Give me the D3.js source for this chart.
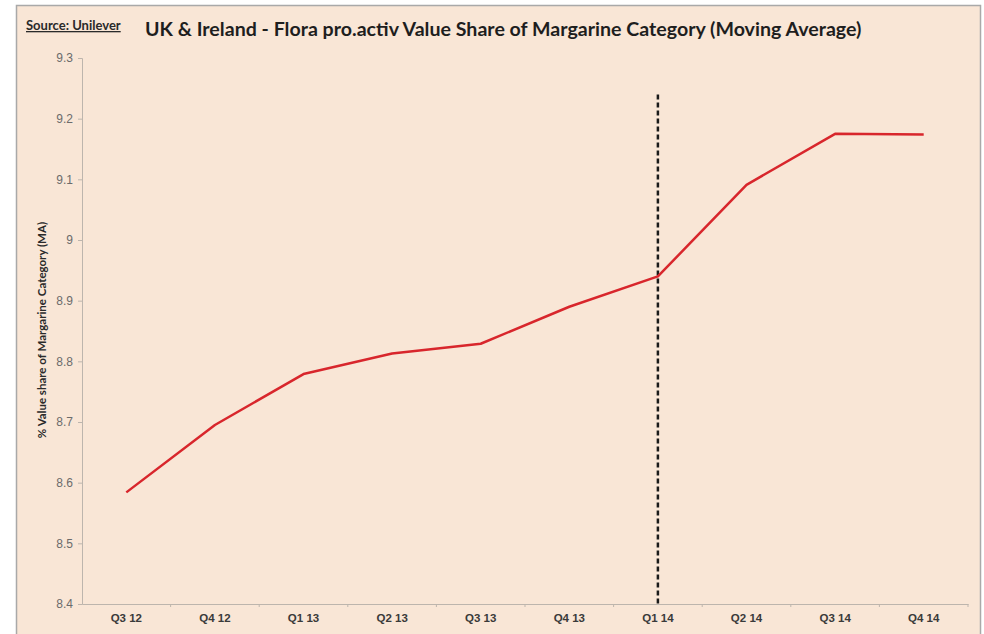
<!DOCTYPE html>
<html>
<head>
<meta charset="utf-8">
<script src="https://cdn.jsdelivr.net/npm/d3@7"></script>
<style>
  body { margin: 0; background: #fff; }
</style>
</head>
<body>
<script>
// Data
const quarters = ["Q3 12", "Q4 12", "Q1 13", "Q2 13", "Q3 13", "Q4 13", "Q1 14", "Q2 14", "Q3 14", "Q4 14"];
const shareValues = [8.584, 8.695, 8.779, 8.813, 8.829, 8.890, 8.940, 9.091, 9.175, 9.174];
const yTicks = [8.4, 8.5, 8.6, 8.7, 8.8, 8.9, 9, 9.1, 9.2, 9.3];
const markerQuarter = "Q1 14";
const markerTop = 9.24;

const width = 984, height = 634;
const margin = { top: 58, right: 16, bottom: 30, left: 82 };

const svg = d3.select("body").append("svg")
    .attr("width", width)
    .attr("height", height)
    .style("font-family", "Lato, 'Open Sans', sans-serif");

// Panel background with grey frame
svg.append("rect")
    .attr("x", 16.5).attr("y", 5.5)
    .attr("width", 964).attr("height", 640)
    .attr("fill", "#f9e6d6")
    .attr("stroke", "#a9a9a9")
    .attr("stroke-width", 1.5);

const x = d3.scaleBand()
    .domain(quarters)
    .range([margin.left, 968]);

const y = d3.scaleLinear()
    .domain([8.4, 9.3])
    .range([604, margin.top]);

// Y axis
const yAxis = svg.append("g")
    .attr("transform", `translate(${margin.left},0)`)
    .call(d3.axisLeft(y).tickValues(yTicks).tickSize(4).tickPadding(5)
        .tickFormat(d => d3.format("")(+d.toFixed(1))));
yAxis.select(".domain").attr("stroke", "#bdb5ad");
yAxis.selectAll(".tick line").attr("stroke", "#bdb5ad");
yAxis.selectAll(".tick text")
    .attr("fill", "#6b6b6b")
    .style("font-size", "12px");

// X axis
const xAxis = svg.append("g")
    .attr("transform", `translate(0,${y(8.4)})`)
    .call(d3.axisBottom(x).tickSize(0).tickPadding(10));
xAxis.select(".domain").attr("stroke", "#bdb5ad");
xAxis.selectAll(".tick text")
    .attr("fill", "#3a3a3a")
    .style("font-size", "11.5px")
    .style("font-weight", "bold");
// tick marks on band boundaries
xAxis.selectAll(".band-tick")
    .data(quarters)
    .enter().append("line")
    .attr("x1", d => x(d) + x.bandwidth())
    .attr("x2", d => x(d) + x.bandwidth())
    .attr("y1", 0).attr("y2", 3)
    .attr("stroke", "#bdb5ad");

// Dashed vertical marker
svg.append("line")
    .attr("x1", x(markerQuarter) + x.bandwidth() / 2)
    .attr("x2", x(markerQuarter) + x.bandwidth() / 2)
    .attr("y1", y(markerTop))
    .attr("y2", y(8.4))
    .attr("stroke", "#1a1a1a")
    .attr("stroke-width", 2.5)
    .attr("stroke-dasharray", "5,3");

// Line series
const line = d3.line()
    .x((d, i) => x(quarters[i]) + x.bandwidth() / 2)
    .y(d => y(d));

svg.append("path")
    .datum(shareValues)
    .attr("fill", "none")
    .attr("stroke", "#d8262c")
    .attr("stroke-width", 2.5)
    .attr("stroke-linejoin", "round")
    .attr("d", line);

// Y axis title
svg.append("text")
    .attr("transform", `translate(46,330) rotate(-90)`)
    .attr("text-anchor", "middle")
    .attr("fill", "#2a2a2a")
    .style("font-size", "11.5px")
    .style("font-weight", "bold")
    .text("% Value share of Margarine Category (MA)");

// Source note
svg.append("text")
    .attr("x", 26).attr("y", 30)
    .attr("fill", "#2a2a2a")
    .style("font-size", "13px")
    .style("font-weight", "bold")
    .style("text-decoration", "underline")
    .text("Source: Unilever");

// Title
svg.append("text")
    .attr("x", 145).attr("y", 36)
    .attr("fill", "#1e1e1e")
    .style("font-size", "19.6px")
    .style("font-weight", "bold")
    .text("UK & Ireland - Flora pro.activ Value Share of Margarine Category (Moving Average)");
</script>
</body>
</html>
